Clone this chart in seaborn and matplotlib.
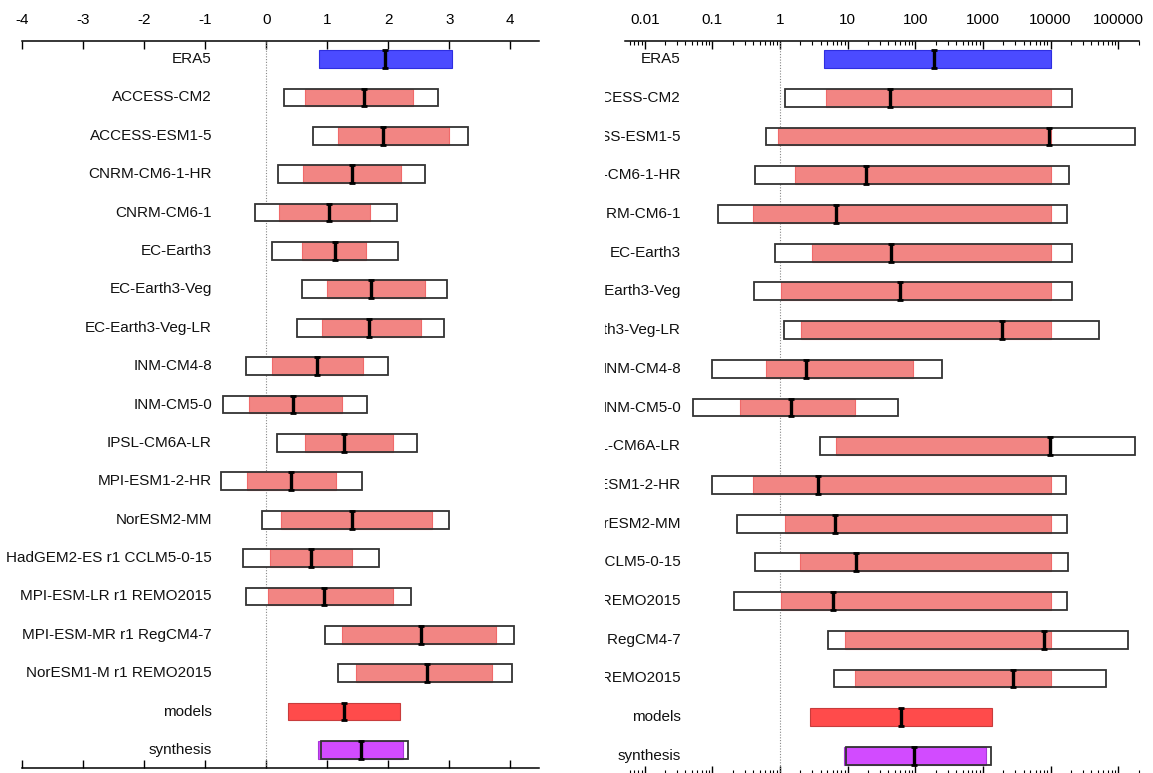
import numpy as np
import matplotlib
matplotlib.use("Agg")
import matplotlib.pyplot as plt
import seaborn as sns
from matplotlib.transforms import Bbox, TransformedBbox, blended_transform_factory
from matplotlib.ticker import FixedLocator, LogLocator, FuncFormatter, NullFormatter

# ---------------------------------------------------------------- data
labels = [
    "ERA5", "ACCESS-CM2", "ACCESS-ESM1-5", "CNRM-CM6-1-HR", "CNRM-CM6-1",
    "EC-Earth3", "EC-Earth3-Veg", "EC-Earth3-Veg-LR", "INM-CM4-8", "INM-CM5-0",
    "IPSL-CM6A-LR", "MPI-ESM1-2-HR", "NorESM2-MM", "HadGEM2-ES r1 CCLM5-0-15",
    "MPI-ESM-LR r1 REMO2015", "MPI-ESM-MR r1 RegCM4-7", "NorESM1-M r1 REMO2015",
    "models", "synthesis",
]
kind = ["obs"] + ["model"] * 16 + ["models", "synthesis"]

nan = np.nan

# change in intensity: best estimate, confidence interval, extended (white) interval
di_best = [1.95, 1.60, 1.91, 1.40, 1.03, 1.13, 1.72, 1.69, 0.83, 0.44,
           1.28, 0.41, 1.40, 0.73, 0.95, 2.54, 2.63, 1.28, 1.56]
di_lo = [0.865, 0.635, 1.18, 0.60, 0.21, 0.59, 1.00, 0.91, 0.09, -0.28,
         0.63, -0.31, 0.24, 0.06, 0.03, 1.25, 1.48, 0.36, 0.85]
di_hi = [3.05, 2.41, 3.00, 2.21, 1.70, 1.64, 2.60, 2.53, 1.58, 1.25,
         2.07, 1.15, 2.71, 1.41, 2.07, 3.77, 3.70, 2.20, 2.24]
di_out_lo = [nan, 0.29, 0.76, 0.20, -0.19, 0.09, 0.58, 0.50, -0.33, -0.71,
             0.18, -0.74, -0.06, -0.38, -0.33, 0.97, 1.18, nan, 0.90]
di_out_hi = [nan, 2.81, 3.31, 2.60, 2.15, 2.16, 2.97, 2.91, 1.99, 1.65,
             2.47, 1.57, 2.99, 1.85, 2.37, 4.06, 4.02, nan, 2.33]

# probability ratio
pr_best = [192, 43, 9500, 19, 6.7, 44, 60, 1940, 2.4, 1.47,
           9800, 3.6, 6.6, 13.2, 6.0, 8000, 2830, 61, 95]
pr_lo = [4.4, 4.8, 0.93, 1.64, 0.40, 3.0, 1.02, 2.03, 0.61, 0.26,
         6.8, 0.40, 1.19, 2.0, 1.05, 9.2, 12.8, 2.8, 8.8]
pr_hi = [10000, 10000, 10000, 10000, 10000, 10000, 10000, 10000, 92, 13,
         10000, 10000, 10000, 10000, 10000, 10000, 10000, 1365, 1130]
pr_out_lo = [nan, 1.17, 0.61, 0.43, 0.12, 0.85, 0.41, 1.16, 0.098, 0.051,
             3.9, 0.097, 0.23, 0.42, 0.21, 5.2, 6.3, nan, 9.3]
pr_out_hi = [nan, 20600, 178000, 18500, 17300, 20500, 21000, 52000, 250, 55,
             178000, 16800, 17300, 18200, 17300, 142000, 66000, nan, 1340]

di_ticks = [-4, -3, -2, -1, 0, 1, 2, 3, 4]

fill_colors = {"obs": "#4b4bff", "model": "#f28583", "models": "#ff4b4b", "synthesis": "#d24bff"}
edge_colors = {"obs": "#2e2ee0", "model": "#f06a6a", "models": "#c83c3c", "synthesis": "#a838d8"}

# ---------------------------------------------------------------- style
sns.set_theme(style="white")
plt.rcParams["font.family"] = ["Liberation Sans", "DejaVu Sans"]
plt.rcParams["font.size"] = 11

W, H = 1153, 773
fig = plt.figure(figsize=(W / 100, H / 100), dpi=100)


def px_axes(x0, x1, ytop, ybot):
    return fig.add_axes([x0 / W, 1 - ybot / H, (x1 - x0) / W, (ybot - ytop) / H])


ax_l = px_axes(22, 539, 41, 768)
ax_r = px_axes(625, 1138.5, 41, 774)

n = len(labels)
rows = np.arange(n)
bar_h = 0.46


def draw_panel(ax, best, lo, hi, olo, ohi):
    best, lo, hi = map(np.asarray, (best, lo, hi))
    olo, ohi = np.asarray(olo, float), np.asarray(ohi, float)
    boxed = ~np.isnan(olo)
    # extended interval: white box
    ax.barh(rows[boxed], ohi[boxed] - olo[boxed], left=olo[boxed], height=bar_h,
            color="white", edgecolor="none", zorder=2)
    # confidence interval
    ax.barh(rows, hi - lo, left=lo, height=bar_h,
            color=[fill_colors[k] for k in kind],
            edgecolor=[edge_colors[k] for k in kind], linewidth=0.8, zorder=3)
    # outline of the extended interval
    ax.barh(rows[boxed], ohi[boxed] - olo[boxed], left=olo[boxed], height=bar_h,
            fill=False, edgecolor="#333333", linewidth=1.3, zorder=4)
    # best estimate marker
    ax.errorbar(best, rows, yerr=bar_h / 2, fmt="none", ecolor="black",
                elinewidth=2.4, capsize=2.3, capthick=2.0, zorder=5)
    ax.set_ylim(n - 1 + 0.468, -0.468)
    ax.set_yticks([])
    for side in ("left", "right"):
        ax.spines[side].set_visible(False)
    for side in ("top", "bottom"):
        ax.spines[side].set_visible(True)
        ax.spines[side].set_color("black")
        ax.spines[side].set_linewidth(1.1)
    ax.tick_params(axis="x", which="both", direction="in", top=True, bottom=True,
                   labeltop=True, labelbottom=False, colors="black",
                   labelsize=11, pad=10)
    ax.tick_params(axis="x", which="major", length=6, width=1.0)
    ax.tick_params(axis="x", which="minor", length=3, width=0.8)
    ax.set_facecolor("white")
    ax.grid(False)


# left panel: intensity change
draw_panel(ax_l, di_best, di_lo, di_hi, di_out_lo, di_out_hi)
ax_l.set_xlim(-4, 4.47)
ax_l.xaxis.set_major_locator(FixedLocator(di_ticks))
ax_l.xaxis.set_major_formatter(FuncFormatter(lambda v, _: f"{v:g}"))
ax_l.axvline(0, color="#888888", linestyle=(0, (1, 1.5)), linewidth=0.8, zorder=1)

# right panel: probability ratio
ax_r.set_xscale("log")
draw_panel(ax_r, pr_best, pr_lo, pr_hi, pr_out_lo, pr_out_hi)
ax_r.set_xlim(0.0051, 2.0e5)
ax_r.xaxis.set_major_locator(LogLocator(base=10, numticks=20))
ax_r.xaxis.set_minor_locator(LogLocator(base=10, subs=np.arange(2, 10), numticks=20))
ax_r.xaxis.set_minor_formatter(NullFormatter())
ax_r.xaxis.set_major_formatter(
    FuncFormatter(lambda v, _: f"{v:.0f}" if v >= 1 else f"{v:g}"))
ax_r.axvline(1, color="#888888", linestyle=(0, (1, 1.5)), linewidth=0.8, zorder=1)

# row labels
clip_r = TransformedBbox(Bbox.from_extents(605 / W, -0.1, 1.0, 1.1), fig.transFigure)
for ax, xpos, clip in ((ax_l, 0.3675, None), (ax_r, 0.109, clip_r)):
    tr = blended_transform_factory(ax.transAxes, ax.transData)
    for i, name in enumerate(labels):
        t = ax.text(xpos, i, name, transform=tr, ha="right", va="center",
                    fontsize=11, color="#111111", clip_on=False)
        if clip is not None:
            t.set_clip_on(True)
            t.set_clip_box(clip)

fig.savefig("out.png", dpi=100, facecolor="white")
